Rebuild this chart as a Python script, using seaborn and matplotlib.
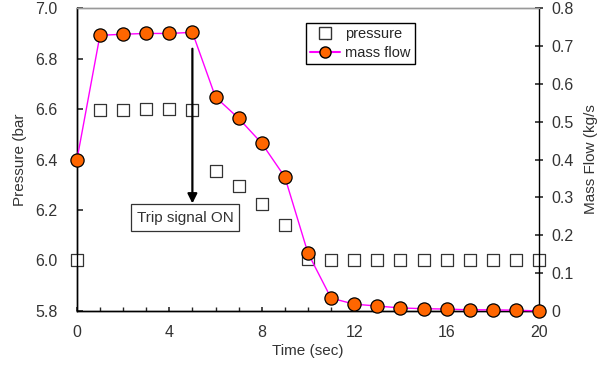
import numpy as np
import pandas as pd
import seaborn as sns
import matplotlib.pyplot as plt
from matplotlib.lines import Line2D
from matplotlib.ticker import MultipleLocator, FuncFormatter

# données
time_s = list(range(0, 21))
pressure_bar = [6.00, 6.595, 6.595, 6.60, 6.60, 6.597, 6.355, 6.295, 6.225, 6.14,
                6.005, 6.00, 6.00, 6.00, 6.00, 6.00, 6.00, 6.00, 6.00, 6.00, 6.00]
mass_flow = [0.398, 0.728, 0.731, 0.733, 0.733, 0.736, 0.565, 0.509, 0.443, 0.354,
             0.153, 0.034, 0.018, 0.013, 0.008, 0.006, 0.005, 0.003, 0.003, 0.002, 0.0]

df = pd.DataFrame({"t": time_s, "p": pressure_bar, "m": mass_flow})

sns.set_theme(style="ticks")
plt.rcParams["font.family"] = ["Liberation Sans", "DejaVu Sans"]
plt.rcParams["font.size"] = 10

fig, ax = plt.subplots(figsize=(6.05, 3.68), dpi=100)
fig.subplots_adjust(left=0.127, right=0.891, top=0.978, bottom=0.155)
ax2 = ax.twinx()

sns.scatterplot(data=df, x="t", y="p", ax=ax, marker="s", s=85,
                facecolor="white", edgecolor="#333333", linewidth=0.9, zorder=3,
                clip_on=False)
sns.lineplot(data=df, x="t", y="m", ax=ax2, color="#FF00FF", linewidth=1.0,
             marker="o", markersize=9.5, markerfacecolor="#FF6600",
             markeredgecolor="black", markeredgewidth=0.9, zorder=4, clip_on=False)

ax.set_xlim(0, 20)
ax.set_ylim(5.8, 7.0)
ax2.set_ylim(0, 0.8)
ax.xaxis.set_major_locator(MultipleLocator(4))
ax.xaxis.set_minor_locator(MultipleLocator(1))
ax.yaxis.set_major_locator(MultipleLocator(0.2))
ax.yaxis.set_major_formatter(FuncFormatter(lambda v, _: f"{v:.1f}"))
ax2.yaxis.set_major_locator(MultipleLocator(0.1))
ax2.yaxis.set_major_formatter(FuncFormatter(lambda v, _: "0" if abs(v) < 1e-9 else f"{v:.1f}"))

ax.set_xlabel("Time (sec)", color="#333333", fontsize=11, labelpad=3)
ax.set_ylabel("Pressure (bar", color="#333333", fontsize=11, labelpad=6)
ax2.set_ylabel("Mass Flow (kg/s", color="#333333", fontsize=11, labelpad=7)

for a in (ax, ax2):
    a.tick_params(colors="#333333", labelsize=11.5)
    for s in a.spines.values():
        s.set_color("black")
        s.set_linewidth(1.0)
    a.spines["top"].set_color("#999999")
ax.tick_params(axis="x", which="both", direction="in", length=3, pad=10)
ax.tick_params(axis="y", direction="in", length=4, pad=14)
ax2.tick_params(axis="y", direction="inout", length=6, pad=6)
ax.spines["right"].set_visible(False)

ax.set_zorder(ax2.get_zorder() - 1)
ax2.patch.set_visible(False)

ax.annotate("", xy=(5, 6.215), xytext=(5, 6.85),
            arrowprops=dict(arrowstyle="-|>", color="black", lw=1.6, mutation_scale=14))
ax.text(4.68, 6.17, "Trip signal ON", ha="center", va="center", fontsize=11, color="#333333",
        bbox=dict(boxstyle="square,pad=0.4", facecolor="white", edgecolor="#333333", linewidth=0.9))

handles = [
    Line2D([], [], linestyle="none", marker="s", markersize=8, markerfacecolor="white",
           markeredgecolor="#333333"),
    Line2D([], [], color="#FF00FF", marker="o", markersize=8, markerfacecolor="#FF6600",
           markeredgecolor="black"),
]
ax2.legend(handles, ["pressure", "mass flow"], loc="upper left", bbox_to_anchor=(0.48, 0.975),
           frameon=True, fancybox=False, edgecolor="black", framealpha=1,
           fontsize=10.5, handlelength=2.0, borderpad=0.3, labelspacing=0.3,
           handletextpad=0.4)

fig.savefig("out.png", dpi=100)
